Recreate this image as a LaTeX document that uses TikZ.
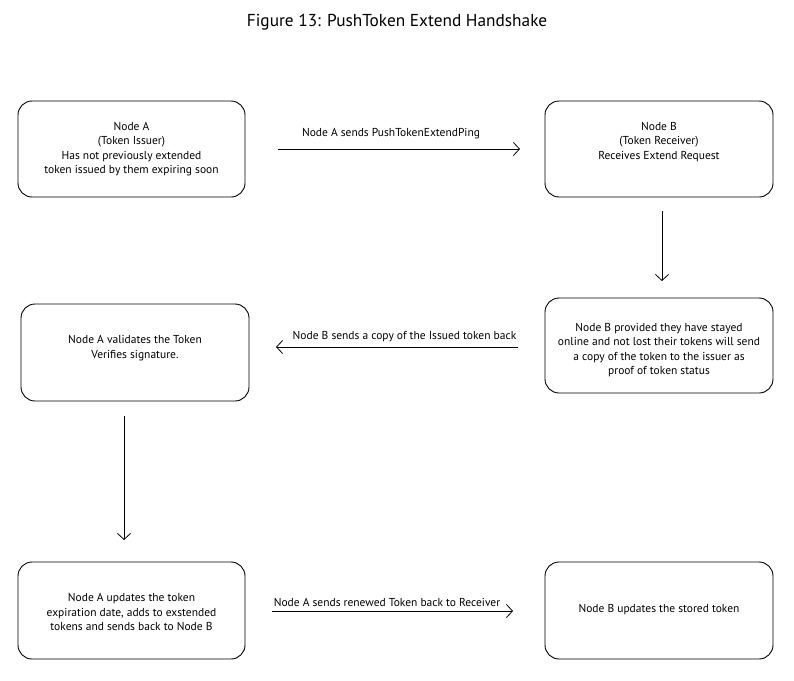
\documentclass[tikz,border=0pt]{standalone}
\usepackage{fontspec}
\setmainfont{PT Sans}
\usetikzlibrary{arrows.meta}
\begin{document}
\begin{tikzpicture}[x=1pt,y=-1pt,
  box/.style={draw=black, line width=0.9pt, rounded corners=14pt, minimum width=227pt, minimum height=96pt, inner sep=0pt},
  boxtext/.style={align=center, font=\fontsize{11.5}{14.5}\selectfont, inner sep=0pt},
  conn/.style={line width=0.8pt, -{Straight Barb[length=6pt,width=13pt,line width=0.8pt]}},
  lbl/.style={font=\fontsize{11.5}{13}\selectfont, inner sep=0pt}
]
\useasboundingbox (0,0) rectangle (794,680);
\node[font=\fontsize{17.3}{20}\selectfont] (title) at (397,22) {Figure 13: PushToken Extend Handshake};

% boxes
\node[box] (boxA1) at (131.5,149) {};
\node[boxtext] (a1) at (131.5,149) {Node A\\(Token Issuer)\\Has not previously extended\\token issued by them expiring soon};

\node[box, minimum width=228pt] (boxB1) at (659,149) {};
\node[boxtext] (b1) at (659,142) {Node B\\(Token Receiver)\\Receives Extend Request};

\node[box, minimum width=228pt, minimum height=95pt] (boxB2) at (659,345.5) {};
\node[boxtext] (b2) at (659,350) {Node B provided they have stayed\\online and not lost their tokens will send\\a copy of the token to the issuer as\\proof of token status};

\node[box, minimum width=228pt, minimum height=97pt] (boxA2) at (135,352.5) {};
\node[boxtext] (a2) at (135,348) {Node A validates the Token\\Verifies signature.};

\node[box, minimum height=97pt] (boxA3) at (131.5,610.5) {};
\node[boxtext] (a3) at (131.5,612) {Node A updates the token\\expiration date, adds to exstended\\tokens and sends back to Node B};

\node[box, minimum width=228pt, minimum height=97pt] (boxB3) at (659,610.5) {};
\node[boxtext] (b3) at (659,610) {Node B updates the stored token};

% connectors
\coordinate (c1s) at (278,149);
\coordinate (c1e) at (520,149);
\draw[conn] (c1s) -- (c1e);
\node[lbl] (l1) at (391,134) {Node A sends PushTokenExtendPing};

\coordinate (c2s) at (662,211);
\coordinate (c2e) at (662,281);
\draw[conn] (c2s) -- (c2e);

\coordinate (c3s) at (518,347);
\coordinate (c3e) at (276,347);
\draw[conn] (c3s) -- (c3e);
\node[lbl] (l3) at (404.5,337) {Node B sends a copy of the Issued token back};

\coordinate (c4s) at (124,416);
\coordinate (c4e) at (124,540);
\draw[conn] (c4s) -- (c4e);

\coordinate (c5s) at (272,611);
\coordinate (c5e) at (513,611);
\draw[conn] (c5s) -- (c5e);
\node[lbl] (l5) at (387,602) {Node A sends renewed Token back to Receiver};
\end{tikzpicture}
\end{document}
